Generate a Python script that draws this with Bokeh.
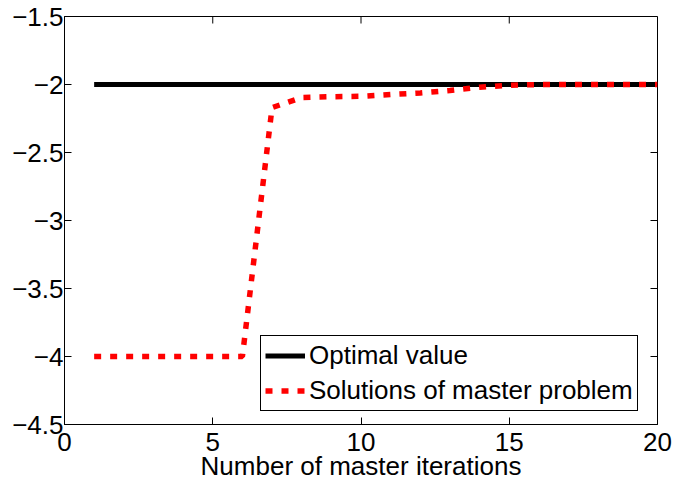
import math
from bokeh.plotting import figure
from bokeh.models import (Range1d, LinearAxis, FixedTicker, Legend, LegendItem,
                          ColumnDataSource)
from bokeh.embed import file_html
from bokeh.resources import INLINE

# iteration index of the master problem
iterations = list(range(1, 21))
# optimal objective value
optimal_value = [-2.0] * 20
# objective of the master problem at each iteration
master_solutions = [-4.0, -4.0, -4.0, -4.0, -4.0, -4.0, -2.17, -2.095, -2.09, -2.087,
                    -2.074, -2.062, -2.044, -2.02, -2.006, -2.0, -2.0, -2.0, -2.0, -2.0]

x_ticks = [0, 5, 10, 15, 20]
y_ticks = [-4.5, -4.0, -3.5, -3.0, -2.5, -2.0, -1.5]
y_tick_labels = {-4.5: "\u22124.5", -4.0: "\u22124", -3.5: "\u22123.5", -3.0: "\u22123",
                 -2.5: "\u22122.5", -2.0: "\u22122", -1.5: "\u22121.5"}

X_MIN, X_MAX = 0, 20
Y_MIN, Y_MAX = -4.5, -1.5

FONT = "Liberation Sans"
TICK_LEN = 7

p = figure(width=675, height=487, output_backend="svg", toolbar_location=None,
           x_range=Range1d(X_MIN, X_MAX), y_range=Range1d(Y_MIN, Y_MAX),
           min_border_left=64, min_border_right=18, min_border_top=16,
           min_border_bottom=63, x_axis_location=None, y_axis_location=None)
p.xgrid.visible = False
p.ygrid.visible = False
p.outline_line_color = "black"
p.outline_line_alpha = 1
p.outline_line_width = 1
p.background_fill_color = "white"
p.border_fill_color = "white"


def styled_axis(axis, ticks):
    axis.ticker = FixedTicker(ticks=ticks)
    axis.major_tick_in = TICK_LEN
    axis.major_tick_out = 0
    axis.minor_tick_in = 0
    axis.minor_tick_out = 0
    axis.axis_line_color = "black"
    axis.major_tick_line_color = "black"
    axis.major_label_text_font = FONT
    axis.major_label_text_color = "black"
    axis.major_label_text_font_size = "26px"
    return axis


xb = styled_axis(LinearAxis(), x_ticks)
xb.major_label_standoff = 8
xb.axis_label = "Number of master iterations"
xb.axis_label_text_font = FONT
xb.axis_label_text_font_size = "26px"
xb.axis_label_text_font_style = "normal"
xb.axis_label_text_color = "black"
xb.axis_label_standoff = -3
p.add_layout(xb, "below")

yl = styled_axis(LinearAxis(), y_ticks)
yl.major_label_overrides = y_tick_labels
yl.major_label_standoff = 1
p.add_layout(yl, "left")

# inward ticks on the top and right edges of the box
p.ray(x=x_ticks, y=[Y_MAX] * len(x_ticks), length=TICK_LEN, length_units="screen",
      angle=-math.pi / 2, line_color="black", line_width=1)
p.ray(x=[X_MAX] * len(y_ticks), y=y_ticks, length=TICK_LEN, length_units="screen",
      angle=math.pi, line_color="black", line_width=1)

src = ColumnDataSource(dict(x=iterations, opt=optimal_value, sol=master_solutions))

r_opt = p.line("x", "opt", source=src, line_color="black", line_width=5)
r_sol = p.line("x", "sol", source=src, line_color="red", line_width=5.5,
               line_dash="7 9", line_cap="butt")

legend = Legend(items=[LegendItem(label="Optimal value", renderers=[r_opt]),
                       LegendItem(label="Solutions of master problem", renderers=[r_sol])],
                location=(196, 13), orientation="vertical")
legend.label_text_font = FONT
legend.label_text_font_size = "26px"
legend.label_text_color = "black"
legend.glyph_width = 40
legend.glyph_height = 27
legend.label_height = 27
legend.label_standoff = 4
legend.spacing = 4
legend.padding = 4
legend.margin = 0
legend.border_line_color = "black"
legend.border_line_alpha = 1
legend.border_line_width = 1
legend.background_fill_color = "white"
legend.background_fill_alpha = 1
p.add_layout(legend, "center")

open("out.html", "w").write(file_html(p, INLINE))
